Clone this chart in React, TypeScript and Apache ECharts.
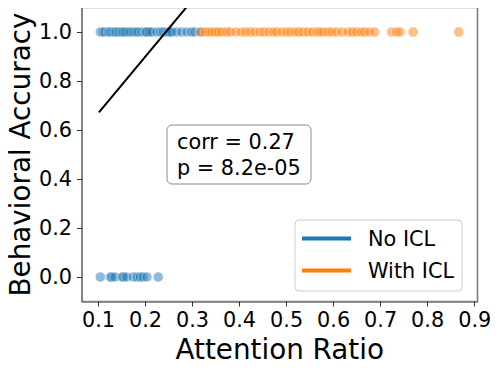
import React, { useEffect, useRef } from "react";
import * as echarts from "echarts";

// Data
const noIclCorrectX = [
  0.104, 0.109, 0.114, 0.121, 0.124, 0.127, 0.132, 0.135, 0.138, 0.142, 0.146, 0.15, 0.153,
  0.157, 0.163, 0.168, 0.174, 0.18, 0.185, 0.192, 0.198, 0.201, 0.203, 0.208, 0.213, 0.224,
  0.232, 0.238, 0.244, 0.249, 0.252, 0.256, 0.266, 0.277, 0.288, 0.298, 0.305, 0.316,
];
const noIclWrongX = [0.104, 0.125, 0.128, 0.135, 0.15, 0.153, 0.16, 0.174, 0.182, 0.189, 0.195, 0.203, 0.227];
const withIclCorrectX = [
  0.318, 0.327, 0.334, 0.341, 0.348, 0.355, 0.362, 0.372, 0.38, 0.392, 0.404, 0.413, 0.422,
  0.432, 0.443, 0.452, 0.462, 0.472, 0.479, 0.49, 0.5, 0.508, 0.518, 0.526, 0.535, 0.545,
  0.555, 0.564, 0.571, 0.578, 0.588, 0.596, 0.606, 0.618, 0.631, 0.64, 0.649, 0.659, 0.666,
  0.676, 0.687, 0.723, 0.734, 0.741, 0.769, 0.866,
];
const fitLine = [
  [0.101, 0.672],
  [0.906, 2.528],
];
const xTicks = [0.1, 0.2, 0.3, 0.4, 0.5, 0.6, 0.7, 0.8, 0.9];
const yTicks = [0.0, 0.2, 0.4, 0.6, 0.8, 1.0];
const seriesNames = ["No ICL", "With ICL"];
const statsText = ["corr = 0.27", "p = 8.2e-05"];

const BLUE = "#1f77b4";
const ORANGE = "#ff7f0e";
const FONT = "DejaVu Sans";
const SPINE = "#7f7f7f";

export default function App() {
  const ref = useRef<HTMLDivElement>(null);
  useEffect(() => {
    if (!ref.current) return;
    const chart = echarts.init(ref.current, null, { renderer: "svg" });
    const blueData = [
      ...noIclCorrectX.map((x) => [x, 1]),
      ...noIclWrongX.map((x) => [x, 0]),
    ];
    const orangeData = withIclCorrectX.map((x) => [x, 1]);
    const pointStyle = (c: string) => ({
      color: c,
      opacity: 0.5,
      borderColor: "#ffffff",
      borderWidth: 0.8,
    });
    chart.setOption({
      animation: false,
      grid: {
        left: 82,
        right: 21.5,
        top: 7.5,
        bottom: 69.5,
        containLabel: false,
        outerBoundsMode: "none",
        show: true,
        borderColor: SPINE,
        borderWidth: 1.6,
        backgroundColor: "transparent",
      },
      xAxis: {
        type: "value",
        min: 0.065,
        max: 0.906,
        name: "Attention Ratio",
        nameLocation: "middle",
        nameGap: 33.5,
        nameMoveOverlap: false,
        nameTextStyle: { fontSize: 27.8, lineHeight: 28, fontFamily: FONT, color: "#000" },
        axisLine: { show: true, onZero: false, lineStyle: { color: SPINE, width: 1.6 } },
        splitLine: { show: false },
        axisTick: {
          show: true,
          customValues: xTicks,
          length: 5,
          lineStyle: { color: "#333", width: 1 },
        },
        axisLabel: {
          customValues: xTicks,
          formatter: (v: number) => v.toFixed(1),
          fontSize: 20.8,
          lineHeight: 20,
          fontFamily: FONT,
          color: "#000",
          margin: 8.5,
        },
      },
      yAxis: {
        type: "value",
        min: -0.1,
        max: 1.1,
        name: "Behavioral Accuracy",
        nameLocation: "middle",
        nameGap: 48,
        nameMoveOverlap: false,
        nameTextStyle: { fontSize: 27.8, fontFamily: FONT, color: "#000" },
        axisLine: { show: true, onZero: false, lineStyle: { color: SPINE, width: 1.6 } },
        splitLine: { show: false },
        axisTick: {
          show: true,
          customValues: yTicks,
          length: 5,
          lineStyle: { color: "#333", width: 1 },
        },
        axisLabel: {
          customValues: yTicks,
          formatter: (v: number) => v.toFixed(1),
          fontSize: 20.8,
          fontFamily: FONT,
          color: "#000",
          margin: 10,
        },
      },
      legend: {
        orient: "vertical",
        left: 295,
        top: 220,
        selectedMode: false,
        itemWidth: 49,
        itemHeight: 4,
        itemGap: 11,
        padding: [8, 8, 10, 7],
        backgroundColor: "#ffffff",
        borderColor: "#cccccc",
        borderWidth: 1,
        borderRadius: 4,
        textStyle: { fontSize: 20.8, fontFamily: FONT, color: "#000", padding: [0, 0, 0, 12] },
        data: [
          { name: seriesNames[0], icon: "rect", itemStyle: { color: BLUE, opacity: 1, borderWidth: 0 } },
          { name: seriesNames[1], icon: "rect", itemStyle: { color: ORANGE, opacity: 1, borderWidth: 0 } },
        ],
      },
      series: [
        {
          name: seriesNames[0],
          type: "scatter",
          symbolSize: 10,
          itemStyle: pointStyle(BLUE),
          data: blueData,
        },
        {
          name: seriesNames[1],
          type: "scatter",
          symbolSize: 10,
          itemStyle: pointStyle(ORANGE),
          data: orangeData,
        },
        {
          name: "fit",
          type: "line",
          data: fitLine,
          symbol: "none",
          clip: true,
          lineStyle: { color: "#000", width: 2 },
          z: 5,
        },
      ],
      graphic: [
        {
          type: "rect",
          shape: { x: 167, y: 125, width: 144, height: 59, r: 5 },
          style: { fill: "#ffffff", stroke: "#8c8c8c", lineWidth: 1 },
          z: 10,
        },
        {
          type: "text",
          x: 177,
          y: 155,
          style: {
            text: statsText.join("\n"),
            fontSize: 20.8,
            fontFamily: FONT,
            fill: "#000",
            verticalAlign: "middle",
            align: "left",
            lineHeight: 26,
          },
          z: 11,
        },
      ],
    });
    return () => chart.dispose();
  }, []);
  return <div ref={ref} style={{ width: 499, height: 371, margin: -8 }} />;
}
